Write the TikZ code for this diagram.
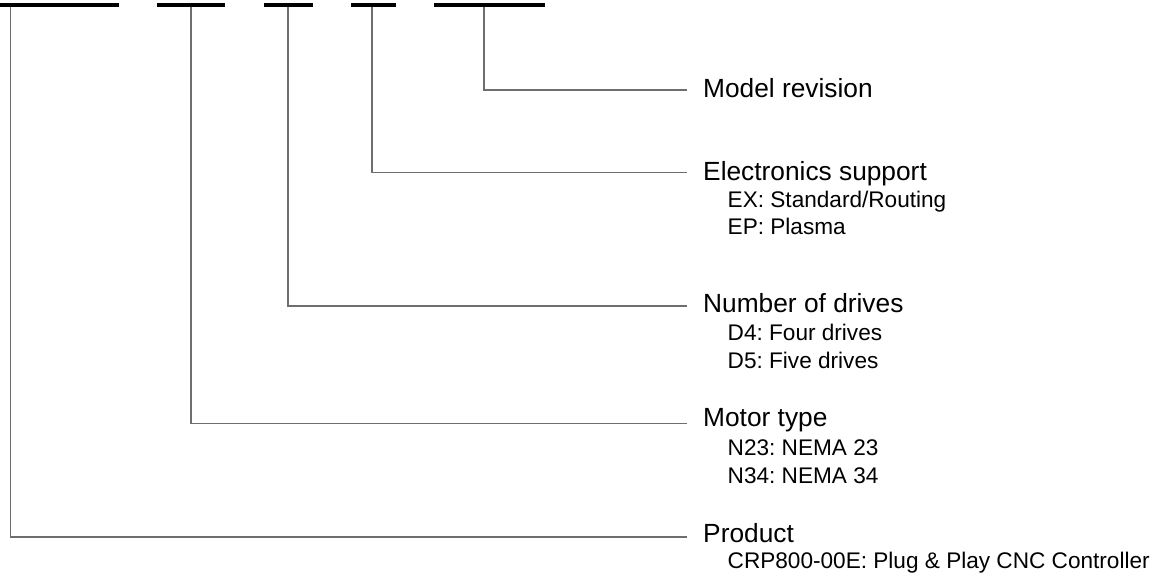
\documentclass[tikz,border=0pt]{standalone}
\usepackage{fontspec}
\setmainfont{Liberation Sans}
\usetikzlibrary{calc}
\definecolor{linegray}{RGB}{110,110,110}
\frenchspacing
\begin{document}
\begin{tikzpicture}[x=1pt,y=-1pt,
  codebar/.style={fill=black,draw=none,inner sep=0pt,minimum height=4.2pt,anchor=north west},
  conn/.style={draw=linegray,line width=1.2pt},
  title/.style={anchor=base west,inner sep=0pt,font=\fontsize{26.3}{30}\selectfont,text=black},
  sub/.style={anchor=base west,inner sep=0pt,font=\fontsize{22.6}{27}\selectfont,text=black}]
\useasboundingbox[fill=white] (0,0) rectangle (1159,576);
% code bars
\node[codebar,minimum width=118.5pt] (bProd) at (0,2.3) {};
\node[codebar,minimum width=68pt] (bMotor) at (157,2.3) {};
\node[codebar,minimum width=49pt] (bDrives) at (264,2.3) {};
\node[codebar,minimum width=45pt] (bElec) at (351,2.3) {};
\node[codebar,minimum width=111pt] (bRev) at (434,2.3) {};
% labels
\node[title] (tRev) at (703,97) {Model revision};
\node[title] (tElec) at (703,180) {Electronics support};
\node[sub] (sEX) at (727.5,207) {EX: Standard/Routing};
\node[sub] (sEP) at (727.5,234.5) {EP: Plasma};
\node[title] (tDrives) at (703,312) {Number of drives};
\node[sub] (sD4) at (727.5,340) {D4: Four drives};
\node[sub] (sD5) at (727.5,368) {D5: Five drives};
\node[title] (tMotor) at (703,426.5) {Motor type};
\node[sub] (sN23) at (727.5,455) {N23: NEMA 23};
\node[sub] (sN34) at (727.5,483.5) {N34: NEMA 34};
\node[title] (tProd) at (703,542) {Product};
\node[sub] (sCRP) at (727.5,568.5) {CRP800-00E: Plug \& Play CNC Controller};
% connector ends
\coordinate (eRev) at (687,90);
\coordinate (eElec) at (687,172.5);
\coordinate (eDrives) at (687,306);
\coordinate (eMotor) at (687,423.5);
\coordinate (eProd) at (687,537);
% connectors
\draw[conn] ($(bRev.south west)+(50,0)$) |- (eRev);
\draw[conn] ($(bElec.south west)+(21,0)$) |- (eElec);
\draw[conn] ($(bDrives.south west)+(24,0)$) |- (eDrives);
\draw[conn] ($(bMotor.south west)+(34,0)$) |- (eMotor);
\draw[conn] ($(bProd.south west)+(10.5,0)$) |- (eProd);
\end{tikzpicture}
\end{document}
